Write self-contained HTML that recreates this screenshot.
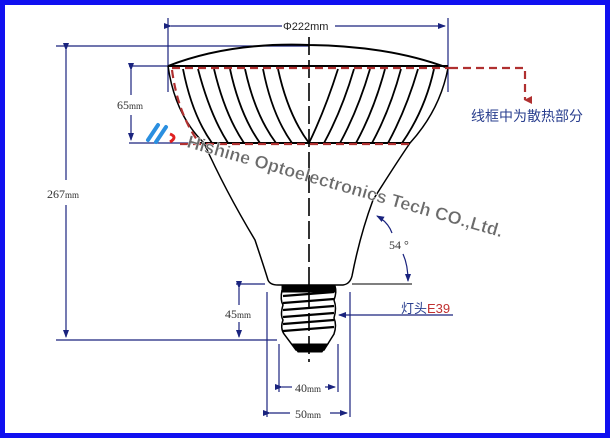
<!DOCTYPE html>
<html><head><meta charset="utf-8"><style>
html,body{margin:0;padding:0;background:#1010f0;}
svg{display:block}
</style></head><body>
<svg width="610" height="438" xmlns="http://www.w3.org/2000/svg">
<defs>
<marker id="a" markerWidth="8" markerHeight="6" refX="7" refY="3" orient="auto" markerUnits="userSpaceOnUse"><path d="M0,0 L8,3 L0,6 Z" fill="#1a237e"/></marker>
<marker id="r" markerWidth="8" markerHeight="8" refX="4" refY="7" orient="auto" markerUnits="userSpaceOnUse"><path d="M0,0 L4,8 L8,0 Z" fill="#b03030"/></marker>
</defs>
<rect x="0" y="0" width="610" height="438" fill="#1010f0"/>
<rect x="5" y="5" width="600" height="428" fill="#fff"/>
<g stroke="#1a237e" stroke-width="1.2" fill="none">
<line x1="168" y1="18" x2="168" y2="92"/><line x1="448" y1="18" x2="448" y2="92"/>
<line x1="171" y1="26" x2="282" y2="26" marker-start="url(#a)"/>
<line x1="335" y1="26" x2="445" y2="26" marker-end="url(#a)"/>
<line x1="56" y1="46" x2="309" y2="46"/>
<line x1="66" y1="50" x2="66" y2="180" marker-start="url(#a)"/>
<line x1="66" y1="205" x2="66" y2="337" marker-end="url(#a)"/>
<line x1="56" y1="340" x2="277" y2="340"/>
<line x1="129" y1="66" x2="168" y2="66"/><line x1="129" y1="143" x2="200" y2="143"/>
<line x1="131" y1="70" x2="131" y2="95" marker-start="url(#a)"/>
<line x1="131" y1="115" x2="131" y2="140" marker-end="url(#a)"/>
<line x1="236" y1="284" x2="265" y2="284"/>
<line x1="239" y1="288" x2="239" y2="305" marker-start="url(#a)"/>
<line x1="239" y1="322" x2="239" y2="337" marker-end="url(#a)"/>
<line x1="352" y1="284" x2="412" y2="284" stroke="#555" stroke-width="1.6"/>
<line x1="267" y1="292" x2="267" y2="417"/><line x1="350" y1="292" x2="350" y2="417"/>
<line x1="279" y1="344" x2="279" y2="392"/><line x1="338" y1="344" x2="338" y2="392"/>
<line x1="282" y1="387" x2="292" y2="387" marker-start="url(#a)"/>
<line x1="325" y1="387" x2="335" y2="387" marker-end="url(#a)"/>
<line x1="270" y1="413" x2="290" y2="413" marker-start="url(#a)"/>
<line x1="330" y1="413" x2="347" y2="413" marker-end="url(#a)"/>
<line x1="453" y1="315" x2="339" y2="315" marker-end="url(#a)"/>
<path d="M392,233 Q388,222 377,216" marker-end="url(#a)"/>
<path d="M403,254 Q408,265 408,281" marker-end="url(#a)"/>
</g>
<g stroke="#000" fill="none">
<line x1="309" y1="37" x2="309" y2="362" stroke-width="1.6" stroke-dasharray="18,5"/>
<path d="M168,66 Q230,42 309,45 Q390,46 448,68" stroke-width="2"/>
<line x1="168" y1="66" x2="448" y2="66" stroke-width="2"/>
<path d="M168,66 Q175,115 204,143 Q225,190 255,240 Q265,270 268,280 Q270,285 278,285 L343,285 Q350,284 352,276 Q360,235 373,200 Q395,165 410,143 Q440,110 448,68" stroke-width="1.5"/>
<line x1="200" y1="143" x2="410" y2="143" stroke-width="2"/>
<g stroke-width="1.8">
<path d="M183,69 Q192,115 212,143"/><path d="M198,69 Q210,115 228,143"/>
<path d="M214,69 Q225,115 244,143"/><path d="M230,69 Q240,115 260,143"/>
<path d="M245,69 Q255,115 276,143"/><path d="M263,69 Q272,115 292,143"/>
<path d="M278,69 Q288,115 309,143"/>
<path d="M338,69 Q325,110 309,143"/><path d="M354,69 Q342,110 324,143"/>
<path d="M370,69 Q358,110 340,143"/><path d="M385,69 Q374,110 356,143"/>
<path d="M401,69 Q390,110 372,143"/><path d="M418,69 Q406,110 388,143"/>
<path d="M434,69 Q425,110 402,143"/>
</g>
<rect x="282" y="286" width="53" height="6" fill="#000"/>
<g stroke-width="2.2">
<path d="M283,296 L334,292"/><path d="M283,303 L334,299"/><path d="M283,310 L334,306"/>
<path d="M283,317 L334,313"/><path d="M283,324 L334,320"/><path d="M283,331 L334,327"/>
</g>
<path d="M282,290 Q280,300 283,305 Q280,315 283,320 Q280,328 284,334 L296,350 L324,350 L334,334 Q337,325 334,318 Q337,308 334,300 Q337,292 335,286" stroke-width="1.5"/>
<path d="M292,344 L328,344 L322,352 L298,352 Z" fill="#000"/>
</g>
<g stroke="#b03030" stroke-width="2.2" fill="none" stroke-dasharray="8,5">
<line x1="172" y1="68" x2="450" y2="68"/>
<path d="M450,68 L525,68 L525,100" marker-end="url(#r)"/>
<path d="M172,70 Q178,115 200,144"/>
<line x1="180" y1="144" x2="410" y2="144"/>
</g>
<g font-family="Liberation Serif, serif" fill="#333" font-size="12">
<text x="283" y="30" font-family="Liberation Sans, sans-serif" font-size="11" fill="#222">Φ222mm</text>
<text x="117" y="109">65<tspan font-size="9">mm</tspan></text>
<text x="47" y="198">267<tspan font-size="9">mm</tspan></text>
<text x="225" y="318">45<tspan font-size="9">mm</tspan></text>
<text x="295" y="392">40<tspan font-size="9">mm</tspan></text>
<text x="295" y="418">50<tspan font-size="9">mm</tspan></text>
<text x="389" y="249">54 °</text>
</g>
<text x="471" y="121" font-family="Liberation Sans, 'Noto Sans CJK SC', sans-serif" font-size="14" fill="#2a3f8f">线框中为散热部分</text>
<text x="401" y="313" font-family="Liberation Sans, 'Noto Sans CJK SC', sans-serif" font-size="13" fill="#2a3f8f">灯头<tspan fill="#c03030">E39</tspan></text>
<g>
<path d="M148,140 L158,125 M156,142 L166,127" stroke="#2a8fe0" stroke-width="4" stroke-linecap="round"/>
<path d="M170,134 Q178,137 170,142" stroke="#e02020" stroke-width="3" fill="none"/>
</g>
<text transform="translate(186,147) rotate(16)" font-family="Liberation Sans, sans-serif" font-weight="bold" font-size="18" fill="#6a6a6a" stroke="#fff" stroke-width="0.4">Hishine Optoelectronics Tech CO.,Ltd.</text>
</svg>
</body></html>
